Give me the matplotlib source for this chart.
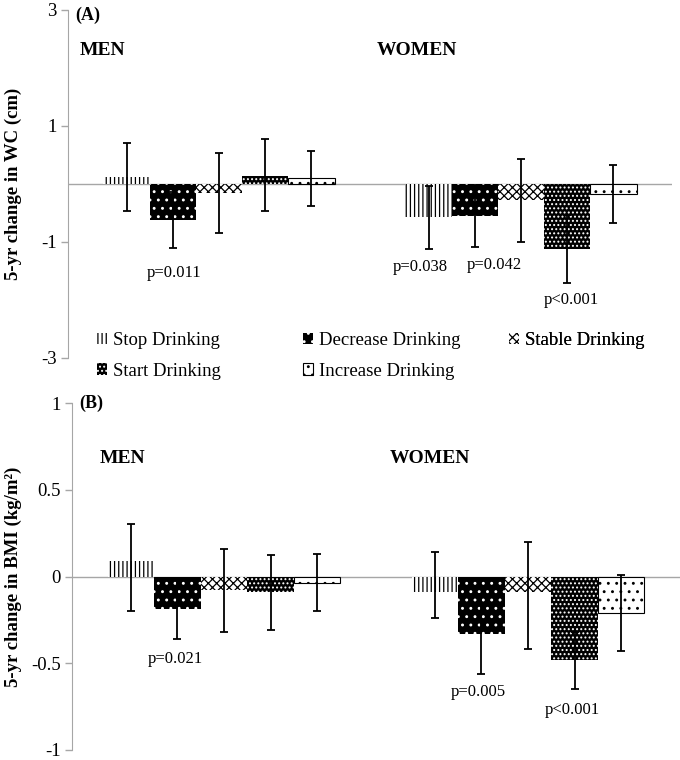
import matplotlib
matplotlib.use("Agg")
import matplotlib.pyplot as plt
from matplotlib.patches import Patch
import numpy as np

plt.rcParams['font.family'] = ['Liberation Serif', 'DejaVu Serif']
plt.rcParams['hatch.linewidth'] = 0.9

groups = ["MEN", "WOMEN"]
series = ["Stop Drinking", "Decrease Drinking", "Stable Drinking", "Start Drinking", "Increase Drinking"]

# panel A: 5-yr change in WC (cm); rows = series, cols = men, women
wc_val = [[0.12, -0.57], [-0.62, -0.55], [-0.16, -0.28], [0.13, -1.12], [0.10, -0.17]]
wc_lo = [[-0.47, -1.12], [-1.10, -1.09], [-0.84, -1.00], [-0.47, -1.71], [-0.38, -0.67]]
wc_hi = [[0.71, -0.03], [-0.14, -0.01], [0.53, 0.43], [0.78, -0.53], [0.57, 0.33]]

# panel B: 5-yr change in BMI (kg/m2)
bmi_val = [[0.09, -0.09], [-0.19, -0.33], [-0.08, -0.09], [-0.09, -0.48], [-0.04, -0.21]]
bmi_lo = [[-0.20, -0.24], [-0.36, -0.56], [-0.32, -0.42], [-0.31, -0.65], [-0.20, -0.43]]
bmi_hi = [[0.30, 0.14], [-0.02, -0.10], [0.16, 0.20], [0.125, -0.32], [0.13, 0.01]]

# p-value notes: (series index, group index, text, x shift, y)
wc_notes = [(1, 0, "p=0.011", 0.005, -1.53), (0, 1, "p=0.038", -0.028, -1.43),
            (1, 1, "p=0.042", 0.063, -1.40), (3, 1, "p<0.001", 0.015, -2.0)]
bmi_notes = [(1, 0, "p=0.021", -0.008, -0.478), (1, 1, "p=0.005", -0.011, -0.663),
             (3, 1, "p<0.001", -0.008, -0.767)]

styles = [
    dict(facecolor="white", edgecolor="black", hatch="||||", linewidth=0),
    dict(facecolor="black", edgecolor="white", hatch="..", linewidth=0),
    dict(facecolor="white", edgecolor="black", hatch="xxxx", linewidth=0),
    dict(facecolor="black", edgecolor="white", hatch="....", linewidth=0),
    dict(facecolor="white", edgecolor="black", hatch="..", linewidth=0.8),
]

width = 0.153
x = np.arange(len(groups))
grey = "#a6a6a6"

fig = plt.figure(figsize=(6.8, 7.6), dpi=100)
axA = fig.add_axes([68 / 680, 1 - 358 / 760, 604 / 680, 348 / 760])
axB = fig.add_axes([72 / 680, 1 - 750 / 760, 608 / 680, 347 / 760])


def draw(ax, vals, lo, hi, notes, ylim, yticks, ylabel, tag, tag_y, grp_pos, lab_x):
    ax.axhline(0, color=grey, lw=1, zorder=0.5)
    for i in range(len(series)):
        pos = x + (i - 2) * width
        v = np.array(vals[i])
        err = [v - np.array(lo[i]), np.array(hi[i]) - v]
        ax.bar(pos, v, width, zorder=2, **styles[i])
        ax.errorbar(pos, v, yerr=err, fmt="none", ecolor="black", elinewidth=1.3,
                    capsize=3, capthick=1.3, zorder=3)
    for i, g, txt, dx, yy in notes:
        ax.text(x[g] + (i - 2) * width + dx, yy, txt, ha="center", va="center", fontsize=12)
    ax.set_xlim(-0.5, 1.5)
    ax.set_ylim(*ylim)
    ax.set_yticks(yticks)
    ax.set_yticklabels([("%g" % t) for t in yticks], fontsize=13.5)
    ax.set_xticks([])
    for s in ["top", "right", "bottom"]:
        ax.spines[s].set_visible(False)
    ax.spines["left"].set_color(grey)
    ax.tick_params(axis="y", color=grey, length=5, width=1, pad=3)
    ax.set_ylabel(ylabel, fontsize=13.5, fontweight="bold")
    ax.yaxis.set_label_coords(lab_x, 0.5)
    ax.text(-0.475, tag_y, tag, fontsize=13, fontweight="bold", va="center", ha="left")
    ax.text(grp_pos[0], grp_pos[2], groups[0], fontsize=14, fontweight="bold", va="center", ha="left")
    ax.text(grp_pos[1], grp_pos[2], groups[1], fontsize=14, fontweight="bold", va="center", ha="left")


draw(axA, wc_val, wc_lo, wc_hi, wc_notes, (-3, 3), [-3, -1, 1, 3],
     "5-yr change in WC (cm)", "(A)", 2.9, (-0.46, 0.523, 2.3), -0.076)
draw(axB, bmi_val, bmi_lo, bmi_hi, bmi_notes, (-1, 1), [-1, -0.5, 0, 0.5, 1],
     "5-yr change in BMI (kg/m²)", "(B)", 1.0, (-0.408, 0.546, 0.68), -0.082)

# legend in three columns
handles = [Patch(**styles[i], label=series[i]) for i in range(len(series))]
cols = [([0, 3], 0.048), ([1, 4], 0.389), ([2], 0.730)]
for idx, cx in cols:
    leg = axA.legend([handles[k] for k in idx], [series[k] for k in idx],
                     loc="upper left", bbox_to_anchor=(cx, 0.0735), frameon=False,
                     fontsize=13.5, borderpad=0, borderaxespad=0, handlelength=0.55,
                     handleheight=0.55, handletextpad=0.3, labelspacing=0.71)
    axA.add_artist(leg)

fig.savefig("out.png", dpi=100)
